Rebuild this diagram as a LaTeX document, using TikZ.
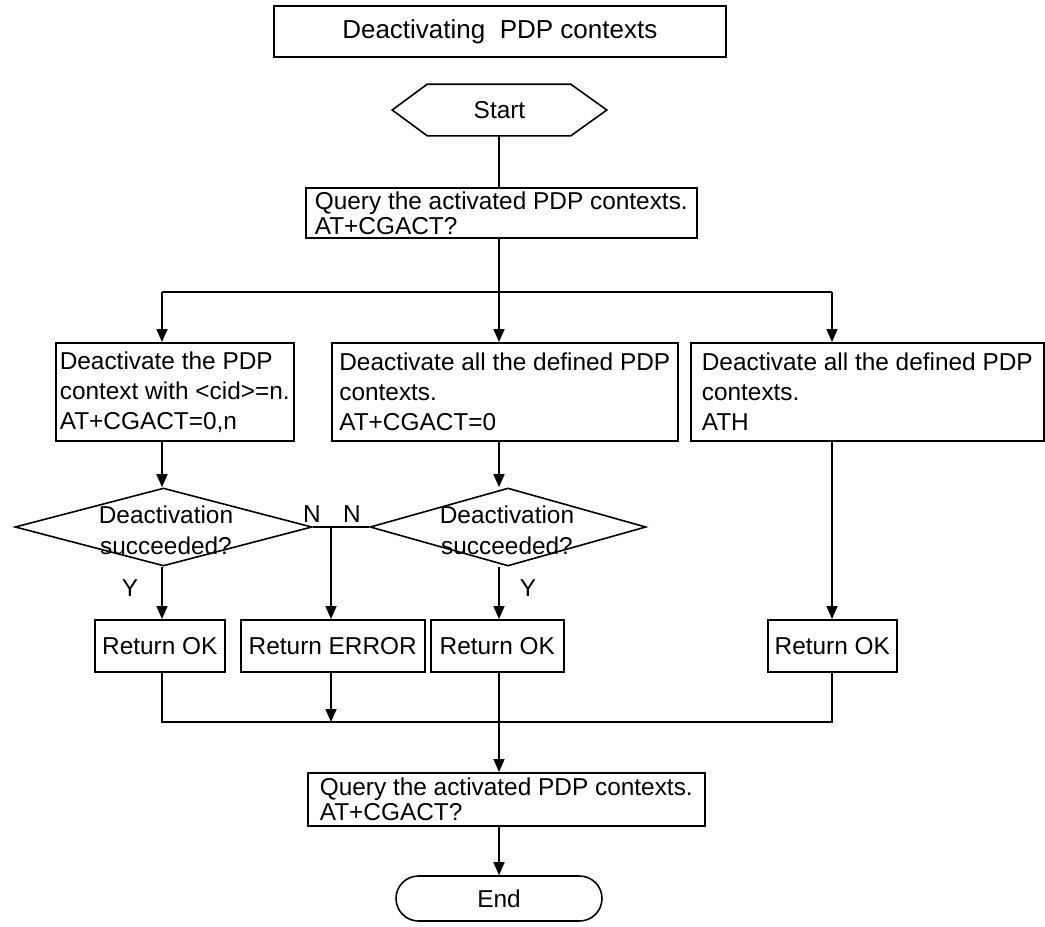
\documentclass[tikz,border=0pt]{standalone}
\usepackage{fontspec}
\setmainfont{Liberation Sans}
\usetikzlibrary{arrows.meta,shapes.geometric,shapes.misc}
\begin{document}
\begin{tikzpicture}[x=1pt,y=-1pt,line width=1.6pt,
  every node/.style={font=\fontsize{24.4}{30}\selectfont},
  pbox/.style={draw,rectangle,anchor=north west,inner xsep=5pt,inner ysep=0pt,align=left},
  tight/.style={font=\fontsize{24.4}{25}\selectfont},
  result/.style={draw,rectangle,anchor=north west,inner sep=0pt,minimum height=52pt},
  decision/.style={draw,diamond,inner sep=0pt,minimum height=78pt},
  arr/.style={-{Triangle[length=13pt,width=11pt]}}]
\useasboundingbox (0,0) rectangle (1045,927);

% title and start
\node[draw,rectangle,minimum width=452pt,minimum height=51pt,anchor=north west,
      font=\fontsize{26}{30}\selectfont] (title) at (273,5) {Deactivating~~PDP contexts};
\node[minimum width=213pt,minimum height=50pt,inner sep=0pt] (start) at (499.5,110) {Start};
\draw (start.west) -- ([xshift=35pt]start.north west) -- ([xshift=-36pt]start.north east)
  -- (start.east) -- ([xshift=-36pt]start.south east) -- ([xshift=35pt]start.south west) -- cycle;

% first query
\node[pbox,tight,minimum width=391pt,minimum height=50pt] (q1) at (305,187)
  {Query the activated PDP contexts.\\AT+CGACT?};

% three ways to deactivate
\node[pbox,inner xsep=4pt,minimum width=237pt,minimum height=98pt] (bA) at (55,342)
  {Deactivate the PDP\\context with <cid>=n.\\AT+CGACT=0,n};
\node[pbox,minimum width=346pt,minimum height=98pt] (bB) at (331,342)
  {Deactivate all the defined PDP\\contexts.\\AT+CGACT=0};
\node[pbox,minimum width=353pt,minimum height=98pt] (bC) at (690,342)
  {Deactivate all the defined PDP\\contexts.\\ATH};

% decisions
\node[decision,minimum width=297pt] (dA) at (163.5,527) {};
\node[decision,minimum width=276pt] (dB) at (508,527) {};
\node[align=center,font=\fontsize{24.4}{31}\selectfont] (tA) at (166,530) {Deactivation\\succeeded?};
\node[align=center,font=\fontsize{24.4}{31}\selectfont] (tB) at (507,530) {Deactivation\\succeeded?};

% results
\node[result,minimum width=130pt] (rA) at (94,619) {Return OK};
\node[result,minimum width=184pt] (rE) at (240,619) {Return ERROR};
\node[result,minimum width=133pt] (rB) at (430,619) {Return OK};
\node[result,minimum width=129pt] (rC) at (767,619) {Return OK};

% final query and end
\node[pbox,tight,minimum width=397pt,minimum height=53pt] (q2) at (307,772)
  {Query the activated PDP contexts.\\AT+CGACT?};
\node[draw,rounded rectangle,minimum width=206pt,minimum height=45pt,inner sep=0pt] (end) at (499,898.5) {End};

% branch points
\coordinate (br) at (499,292);
\coordinate (brL) at (162,292);
\coordinate (brR) at (832,292);
\coordinate (nj) at (331,527);
\coordinate (mL) at (162,722);
\coordinate (mR) at (832,722);

% connectors
\draw (start.south -| br) -- (br |- q1.north);
\draw (br |- q1.south) -- (br);
\draw (brL) -- (brR);
\draw[arr] (br) -- (br |- bB.north);
\draw[arr] (brL) -- (brL |- bA.north);
\draw[arr] (brR) -- (brR |- bC.north);

\draw[arr] (brL |- bA.south) -- (brL |- dA.north);
\draw[arr] (br |- bB.south) -- (br |- dB.north);
\draw[arr] (brR |- bC.south) -- (brR |- rC.north);

\draw[arr] (brL |- dA.south) -- (brL |- rA.north);
\draw[arr] (br |- dB.south) -- (br |- rB.north);
\draw (dA.east) -- (dB.west);
\draw[arr] (nj) -- (nj |- rE.north);

\draw (mL |- rA.south) -- (mL) -- (mR) -- (mR |- rC.south);
\draw[arr] (nj |- rE.south) -- (nj |- mL);
\draw[arr] (br |- rB.south) -- (br |- q2.north);
\draw[arr] (br |- q2.south) -- (br |- end.north);

% branch labels
\node (nA) at (312,514) {N};
\node (nB) at (352,514) {N};
\node (yA) at (130,588) {Y};
\node (yB) at (528,588) {Y};
\end{tikzpicture}
\end{document}
